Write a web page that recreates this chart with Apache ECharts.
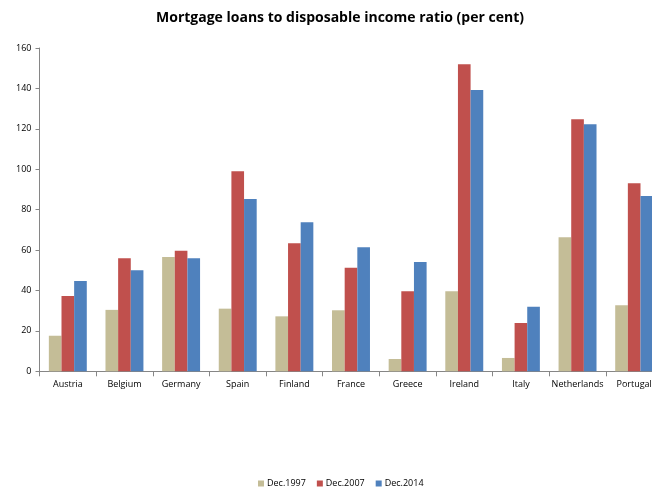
<!DOCTYPE html>
<html>
<head>
<meta charset="utf-8">
<script src="https://cdn.jsdelivr.net/npm/echarts@6/dist/echarts.min.js"></script>
<style>
  html, body { margin: 0; padding: 0; background: #ffffff; }
  #chart { width: 652px; height: 487px; }
</style>
</head>
<body>
<div id="chart"></div>
<script>
// Mortgage loans as a share of disposable income, by country
const countries = ['Austria', 'Belgium', 'Germany', 'Spain', 'Finland', 'France', 'Greece', 'Ireland', 'Italy', 'Netherlands', 'Portugal'];
const dec1997 = [17.6, 30.4, 56.6, 31.0, 27.2, 30.2, 6.1, 39.6, 6.6, 66.4, 32.7];
const dec2007 = [37.3, 56.0, 59.6, 99.0, 63.4, 51.2, 39.6, 152.0, 23.9, 124.8, 93.1];
const dec2014 = [44.7, 50.0, 56.0, 85.3, 73.8, 61.4, 54.1, 139.2, 32.0, 122.3, 86.7];
const seriesNames = ['Dec.1997', 'Dec.2007', 'Dec.2014'];
const seriesColors = ['#C4BD97', '#C0504D', '#4F81BD'];

const font = '"Open Sans", "Liberation Sans", sans-serif';
const chart = echarts.init(document.getElementById('chart'), null, { renderer: 'canvas' });

const makeSeries = (name, data, color) => ({
  name: name,
  type: 'bar',
  data: data,
  barGap: '0%',
  barCategoryGap: '33%',
  itemStyle: { color: color },
  emphasis: { disabled: true }
});

chart.setOption({
  animation: false,
  title: {
    text: 'Mortgage loans to disposable income ratio (per cent)',
    left: 335,
    textAlign: 'center',
    top: 6,
    textStyle: { fontFamily: font, fontSize: 14, fontWeight: 'bold', color: '#000000' }
  },
  legend: {
    data: seriesNames,
    top: 474,
    left: 253,
    itemWidth: 6,
    itemHeight: 6,
    itemGap: 11,
    icon: 'rect',
    textStyle: { fontFamily: font, fontSize: 9, color: '#000000', padding: [0, 0, 0, -2] }
  },
  // the plot area runs past the right edge of the canvas
  grid: { left: 39.5, top: 48, right: -10.5, bottom: 115.7, containLabel: false, outerBoundsMode: 'none' },
  xAxis: {
    type: 'category',
    data: countries,
    axisLine: { lineStyle: { color: '#868686', width: 1 } },
    axisTick: { show: true, alignWithLabel: false, length: 5, lineStyle: { color: '#868686' } },
    axisLabel: { fontFamily: font, fontSize: 9, color: '#000000', margin: 9, interval: 0 }
  },
  yAxis: {
    type: 'value',
    min: 0,
    max: 160,
    interval: 20,
    axisLine: { show: true, lineStyle: { color: '#868686', width: 1 } },
    axisTick: { show: true, length: 4, lineStyle: { color: '#868686' } },
    splitLine: { show: false },
    axisLabel: { fontFamily: font, fontSize: 9, color: '#000000', margin: 8 }
  },
  series: [
    makeSeries(seriesNames[0], dec1997, seriesColors[0]),
    makeSeries(seriesNames[1], dec2007, seriesColors[1]),
    makeSeries(seriesNames[2], dec2014, seriesColors[2])
  ]
});
</script>
</body>
</html>
